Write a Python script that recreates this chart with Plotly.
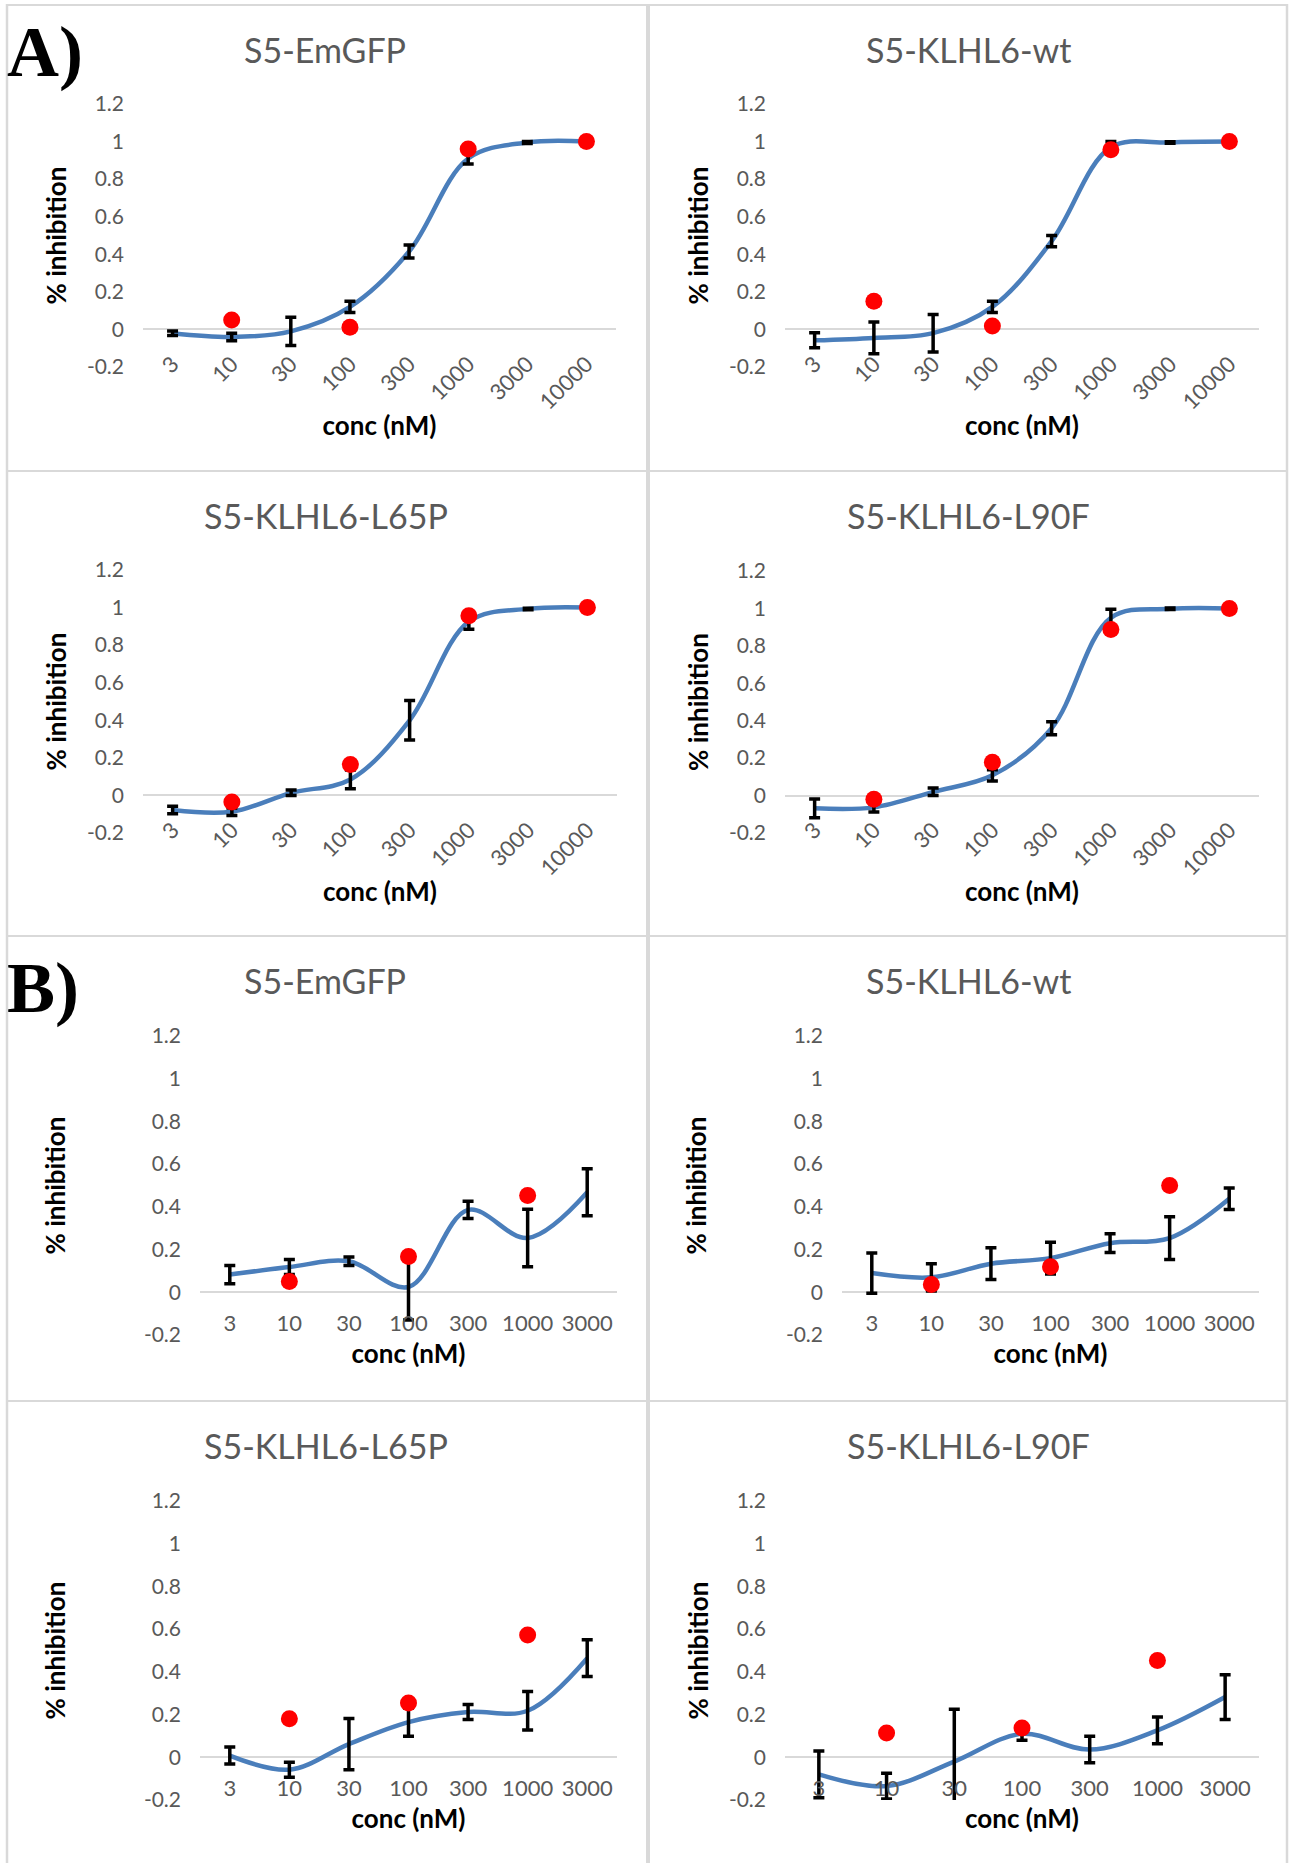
import plotly.graph_objects as go

W, H = 1289, 1863

# ---------------- data ----------------
conc_A = ["3", "10", "30", "100", "300", "1000", "3000", "10000"]
conc_B = ["3", "10", "30", "100", "300", "1000", "3000"]
y_tickvals = [-0.2, 0, 0.2, 0.4, 0.6, 0.8, 1, 1.2]
y_ticktext = ["-0.2", "0", "0.2", "0.4", "0.6", "0.8", "1", "1.2"]
panel_titles = ["S5-EmGFP", "S5-KLHL6-wt", "S5-KLHL6-L65P", "S5-KLHL6-L90F"]

# Section A
A_EmGFP_mean = [-0.02, -0.04, -0.01, 0.12, 0.415, 0.91, 0.995, 1.0]
A_EmGFP_err = [0.012, 0.02, 0.075, 0.03, 0.035, 0.03, 0.005, 0.0]
A_EmGFP_red = [None, 0.05, None, 0.012, None, 0.96, None, 1.0]

A_wt_mean = [-0.058, -0.045, -0.02, 0.12, 0.47, 0.97, 0.995, 1.0]
A_wt_err = [0.04, 0.085, 0.1, 0.03, 0.03, 0.03, 0.004, 0.0]
A_wt_red = [None, 0.15, None, 0.018, None, 0.956, None, 1.0]

A_L65P_mean = [-0.078, -0.087, 0.014, 0.085, 0.40, 0.925, 0.993, 1.0]
A_L65P_err = [0.02, 0.02, 0.015, 0.05, 0.105, 0.04, 0.004, 0.0]
A_L65P_red = [None, -0.035, None, 0.165, None, 0.957, None, 1.0]

A_L90F_mean = [-0.068, -0.063, 0.02, 0.108, 0.36, 0.95, 0.998, 1.0]
A_L90F_err = [0.05, 0.025, 0.02, 0.03, 0.035, 0.045, 0.004, 0.0]
A_L90F_red = [None, -0.02, None, 0.178, None, 0.888, None, 1.0]

# Section B
B_EmGFP_mean = [0.083, 0.118, 0.145, 0.025, 0.386, 0.254, 0.468]
B_EmGFP_err = [0.043, 0.035, 0.02, 0.155, 0.04, 0.135, 0.11]
B_EmGFP_red = [None, 0.051, None, 0.168, None, 0.453, None]

B_wt_mean = [0.09, 0.07, 0.134, 0.16, 0.23, 0.254, 0.438]
B_wt_err = [0.094, 0.064, 0.074, 0.074, 0.044, 0.1, 0.05]
B_wt_red = [None, 0.036, None, 0.12, None, 0.5, None]

B_L65P_mean = [0.008, -0.058, 0.062, 0.165, 0.212, 0.218, 0.464]
B_L65P_err = [0.04, 0.035, 0.12, 0.066, 0.035, 0.09, 0.086]
B_L65P_red = [None, 0.18, None, 0.254, None, 0.573, None]

B_L90F_mean = [-0.08, -0.135, -0.02, 0.11, 0.036, 0.126, 0.282]
B_L90F_err = [0.11, 0.06, 0.245, 0.03, 0.062, 0.063, 0.105]
B_L90F_red = [None, 0.114, None, 0.137, None, 0.453, None]

# ---------------- style ----------------
BLUE = "#4A7EBB"
RED = "#FF0000"
GRAY_TXT = "#595959"
BORDER = "#D9D9D9"
FONT = "Lato, Carlito, 'Open Sans', sans-serif"

def fx(p):
    return p / W

def fy(p):
    return 1 - p / H

# panel geometry (pixels): plot box x0, x1, y_top(1.2), y_bottom(-0.2)
panels = [
    dict(sec="A", cats=conc_A, mean=A_EmGFP_mean, err=A_EmGFP_err, red=A_EmGFP_red,
         title=panel_titles[0], box=(143, 616, 104, 367), tpos=(325, 49), ystand=12),
    dict(sec="A", cats=conc_A, mean=A_wt_mean, err=A_wt_err, red=A_wt_red,
         title=panel_titles[1], box=(785, 1259, 104, 367), tpos=(968, 49), ystand=12),
    dict(sec="A", cats=conc_A, mean=A_L65P_mean, err=A_L65P_err, red=A_L65P_red,
         title=panel_titles[2], box=(143, 617, 570, 833), tpos=(326, 515), ystand=12),
    dict(sec="A", cats=conc_A, mean=A_L90F_mean, err=A_L90F_err, red=A_L90F_red,
         title=panel_titles[3], box=(785, 1259, 571, 833), tpos=(968, 515), ystand=12),
    dict(sec="B", cats=conc_B, mean=B_EmGFP_mean, err=B_EmGFP_err, red=B_EmGFP_red,
         title=panel_titles[0], box=(200, 617, 1036, 1335), tpos=(325, 980), ystand=70),
    dict(sec="B", cats=conc_B, mean=B_wt_mean, err=B_wt_err, red=B_wt_red,
         title=panel_titles[1], box=(842, 1259, 1036, 1335), tpos=(968, 980), ystand=71),
    dict(sec="B", cats=conc_B, mean=B_L65P_mean, err=B_L65P_err, red=B_L65P_red,
         title=panel_titles[2], box=(200, 617, 1501, 1800), tpos=(326, 1445), ystand=70),
    dict(sec="B", cats=conc_B, mean=B_L90F_mean, err=B_L90F_err, red=B_L90F_red,
         title=panel_titles[3], box=(785, 1259, 1501, 1800), tpos=(968, 1445), ystand=12),
]

fig = go.Figure()
annotations = []
shapes = []

YMIN, YMAX = -0.2, 1.2

for i, p in enumerate(panels):
    n = i + 1
    xa = "x" if n == 1 else f"x{n}"
    ya = "y" if n == 1 else f"y{n}"
    xkey = "xaxis" if n == 1 else f"xaxis{n}"
    ykey = "yaxis" if n == 1 else f"yaxis{n}"
    x0, x1, yt, yb = p["box"]
    ncat = len(p["cats"])

    # smoothed mean curve
    fig.add_trace(go.Scatter(
        x=p["cats"], y=p["mean"], mode="lines", xaxis=xa, yaxis=ya,
        line=dict(color=BLUE, width=4.5, shape="spline", smoothing=1.0),
        showlegend=False, hoverinfo="skip"))
    # error bars (drawn above the curve)
    fig.add_trace(go.Scatter(
        x=p["cats"], y=p["mean"], mode="markers", xaxis=xa, yaxis=ya,
        marker=dict(size=1, color="rgba(0,0,0,0)"),
        error_y=dict(type="data", array=p["err"], visible=True,
                     color="black", thickness=3.5, width=5.5),
        showlegend=False))
    # red points
    fig.add_trace(go.Scatter(
        x=p["cats"], y=p["red"], mode="markers", xaxis=xa, yaxis=ya,
        marker=dict(size=17, color=RED, line=dict(width=0)),
        showlegend=False))

    dom_y = [fy(yb), fy(yt)]
    xaxis = dict(
        domain=[fx(x0), fx(x1)], type="category", range=[-0.5, ncat - 0.5],
        categoryorder="array", categoryarray=p["cats"],
        showgrid=False, zeroline=False, showline=False, ticks="",
        automargin=False,
        tickfont=dict(family=FONT, size=22, color=GRAY_TXT),
        fixedrange=True,
    )
    if p["sec"] == "A":
        xaxis.update(anchor=ya, tickangle=-45, ticklabelstandoff=-21,
                     title=dict(text="conc (nM)",
                                font=dict(family=FONT, size=26, color="black", weight="bold"),
                                standoff=3))
    else:
        zero_pos = fy(yb - (0 - YMIN) / (YMAX - YMIN) * (yb - yt))
        xaxis.update(anchor="free", position=zero_pos, tickangle=0, ticklabelstandoff=16,
                     title=dict(text="conc (nM)",
                                font=dict(family=FONT, size=26, color="black", weight="bold"),
                                standoff=9))
    fig.layout[xkey] = xaxis

    fig.layout[ykey] = dict(
        domain=dom_y, anchor=xa, range=[YMIN, YMAX],
        tickvals=y_tickvals, ticktext=y_ticktext,
        showgrid=False, zeroline=True, zerolinecolor=BORDER, zerolinewidth=1.5,
        showline=False, ticks="", ticklabelstandoff=18,
        automargin=False,
        tickfont=dict(family=FONT, size=21, color=GRAY_TXT),
        title=dict(text="% inhibition", font=dict(family=FONT, size=26, color="black", weight="bold"),
                   standoff=p["ystand"]),
        fixedrange=True,
    )

    annotations.append(dict(
        text=p["title"], x=fx(p["tpos"][0]), y=fy(p["tpos"][1]), xref="paper", yref="paper",
        xanchor="center", yanchor="middle", showarrow=False,
        font=dict(family=FONT, size=34, color=GRAY_TXT)))

# section letters
annotations.append(dict(text="<b>A)</b>", x=fx(5), y=fy(52), xref="paper", yref="paper",
                        xanchor="left", yanchor="middle", showarrow=False,
                        font=dict(family="Liberation Serif, Times New Roman, serif", size=72, color="black")))
annotations.append(dict(text="<b>B)</b>", x=fx(5), y=fy(988), xref="paper", yref="paper",
                        xanchor="left", yanchor="middle", showarrow=False,
                        font=dict(family="Liberation Serif, Times New Roman, serif", size=72, color="black")))

# panel borders
def hline(y, x0, x1, w):
    return dict(type="line", xref="paper", yref="paper", x0=fx(x0), x1=fx(x1), y0=fy(y), y1=fy(y),
                line=dict(color=BORDER, width=w), layer="below")

def vline(x, y0, y1, w):
    return dict(type="line", xref="paper", yref="paper", x0=fx(x), x1=fx(x), y0=fy(y0), y1=fy(y1),
                line=dict(color=BORDER, width=w), layer="below")

shapes += [
    hline(5, 6, 1288, 2),
    hline(471, 6, 1288, 2),
    hline(936, 6, 1288, 2),
    hline(1401, 6, 1288, 2),
    vline(7, 4, 1863, 2.5),
    vline(648, 4, 1863, 4),
    vline(1287, 4, 1863, 2.5),
]

fig.update_layout(
    width=W, height=H,
    margin=dict(l=0, r=0, t=0, b=0, pad=0, autoexpand=False),
    paper_bgcolor="white", plot_bgcolor="white",
    showlegend=False,
    annotations=annotations,
    shapes=shapes,
    font=dict(family=FONT),
)

fig.write_html(
    "out.html",
    config={"displayModeBar": False, "staticPlot": False},
    post_script="document.body.style.margin='0px';document.body.style.padding='0px';"
                "document.body.style.overflow='hidden';",
)
